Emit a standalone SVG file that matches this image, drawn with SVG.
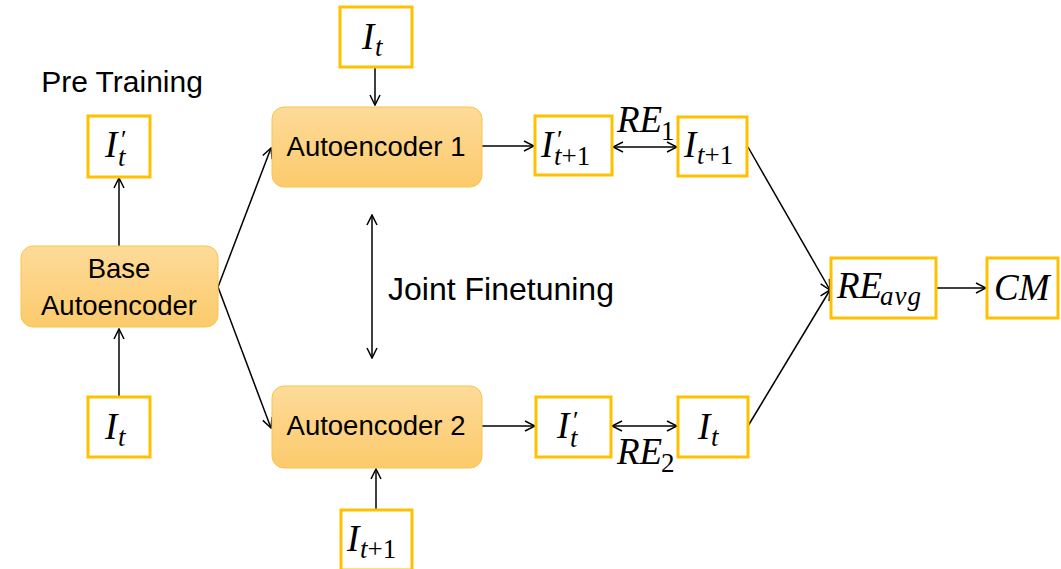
<svg xmlns="http://www.w3.org/2000/svg" width="1061" height="569" viewBox="0 0 1061 569">
<style>
.box{fill:#fff;stroke:#ffc000;stroke-width:3}
.ae{fill:url(#g);stroke:#f9c54a;stroke-width:1}
.lbl{font-family:"Liberation Sans",Arial,sans-serif;font-size:27.5px;fill:#000}
.big{font-family:"Liberation Sans",Arial,sans-serif;font-size:32px;fill:#000}
.m{font-family:"Liberation Serif","Times New Roman",serif;font-style:italic;font-size:37px;fill:#000}
.s{font-size:27px}
.n{font-style:normal}
.c line{stroke:#000;stroke-width:1.5;fill:none}
</style>
<defs>
<linearGradient id="g" x1="0" y1="0" x2="0" y2="1">
<stop offset="0" stop-color="#fedb9a"/>
<stop offset="1" stop-color="#fbca6b"/>
</linearGradient>
<marker id="a" viewBox="0 0 12 12" refX="11" refY="6" markerWidth="12" markerHeight="12" markerUnits="userSpaceOnUse" orient="auto-start-reverse">
<path d="M1,1 L11,6 L1,11" fill="none" stroke="#000" stroke-width="1.5"/>
</marker>
</defs>

<rect width="1061" height="569" fill="#fff"/>

<g class="c">
<line x1="119" y1="246" x2="119" y2="178" marker-end="url(#a)"/>
<line x1="119" y1="396" x2="119" y2="329" marker-end="url(#a)"/>
<line x1="218" y1="287" x2="271" y2="148" marker-end="url(#a)"/>
<line x1="218" y1="287" x2="271" y2="428" marker-end="url(#a)"/>
<line x1="375" y1="67" x2="375" y2="105" marker-end="url(#a)"/>
<line x1="376" y1="510" x2="376" y2="469" marker-end="url(#a)"/>
<line x1="482" y1="146" x2="534" y2="146" marker-end="url(#a)"/>
<line x1="482" y1="426" x2="535" y2="426" marker-end="url(#a)"/>
<line x1="613" y1="147" x2="677" y2="147" marker-start="url(#a)" marker-end="url(#a)"/>
<line x1="612" y1="426" x2="677" y2="426" marker-start="url(#a)" marker-end="url(#a)"/>
<line x1="372" y1="215" x2="372" y2="358" marker-start="url(#a)" marker-end="url(#a)"/>
<line x1="748" y1="147" x2="830" y2="290" marker-end="url(#a)"/>
<line x1="748" y1="426" x2="830" y2="290" marker-end="url(#a)"/>
<line x1="936" y1="288" x2="986" y2="288" marker-end="url(#a)"/>
</g>

<text class="big" x="122" y="92" text-anchor="middle" style="font-size:30px">Pre Training</text>
<text class="big" x="388" y="300">Joint Finetuning</text>

<g id="base">
<rect class="ae" x="21" y="246" width="197" height="81" rx="12"/>
<text class="lbl" x="119" y="278" text-anchor="middle">Base</text>
<text class="lbl" x="119" y="315" text-anchor="middle">Autoencoder</text>
</g>
<g id="ae1">
<rect class="ae" x="272" y="107" width="210" height="80" rx="12"/>
<text class="lbl" x="376" y="156" text-anchor="middle">Autoencoder 1</text>
</g>
<g id="ae2">
<rect class="ae" x="272" y="386" width="210" height="82" rx="12"/>
<text class="lbl" x="376" y="435" text-anchor="middle">Autoencoder 2</text>
</g>

<g id="pre-out">
<rect class="box" x="88" y="116" width="62" height="61"/>
<text class="m" x="105" y="157">I</text>
<text class="m n" x="121" y="148" style="font-size:26px">′</text>
<text class="m s" x="118" y="166">t</text>
</g>
<g id="pre-in">
<rect class="box" x="88" y="397" width="62" height="60"/>
<text class="m" x="105" y="439">I<tspan x="118" y="446" class="s">t</tspan></text>
</g>
<g id="top-in">
<rect class="box" x="340" y="7" width="72" height="60"/>
<text class="m" x="362" y="49">I<tspan x="375" y="56" class="s">t</tspan></text>
</g>
<g id="bot-in">
<rect class="box" x="341" y="510" width="71" height="60"/>
<text class="m" x="347" y="551">I<tspan x="360" y="558" class="s">t<tspan class="n">+1</tspan></tspan></text>
</g>
<g id="out1">
<rect class="box" x="535" y="116" width="77" height="59"/>
<text class="m" x="541" y="157">I</text>
<text class="m n" x="557" y="148" style="font-size:26px">′</text>
<text class="m s" x="554" y="165">t<tspan class="n">+1</tspan></text>
</g>
<g id="gt1">
<rect class="box" x="678" y="117" width="69" height="59"/>
<text class="m" x="684" y="157">I<tspan x="697" y="164" class="s">t<tspan class="n">+1</tspan></tspan></text>
</g>
<g id="out2">
<rect class="box" x="536" y="397" width="75" height="60"/>
<text class="m" x="557" y="438">I</text>
<text class="m n" x="573" y="429" style="font-size:26px">′</text>
<text class="m s" x="570" y="447">t</text>
</g>
<g id="gt2">
<rect class="box" x="678" y="397" width="70" height="60"/>
<text class="m" x="698" y="439">I<tspan x="711" y="446" class="s">t</tspan></text>
</g>
<text class="m" x="617" y="132">RE<tspan x="661" y="140" class="s n">1</tspan></text>
<text class="m" x="617" y="464">RE<tspan x="661" y="472" class="s n">2</tspan></text>
<g id="reavg">
<rect class="box" x="831" y="258" width="105" height="60"/>
<text class="m" x="837" y="298">RE<tspan x="880" y="305" class="s" letter-spacing="1">avg</tspan></text>
</g>
<g id="cm">
<rect class="box" x="987" y="258" width="71" height="60"/>
<text class="m" x="994" y="300">CM</text>
</g>
</svg>
